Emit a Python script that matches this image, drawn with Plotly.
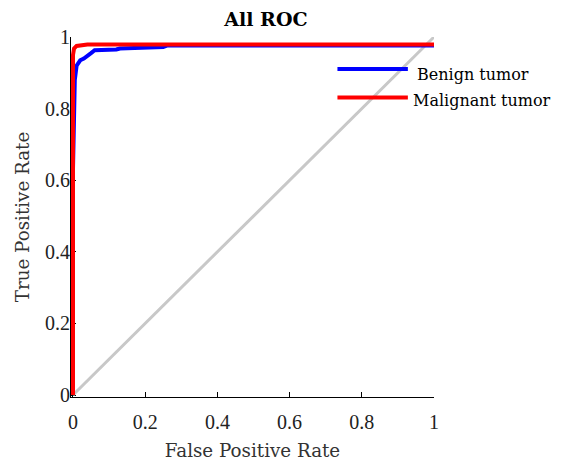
import plotly.graph_objects as go

# Data
benign_fpr = [0, 0, 0.005, 0.01, 0.02, 0.03, 0.05, 0.06, 0.12, 0.13, 0.25, 0.26, 1]
benign_tpr = [0, 0.63, 0.88, 0.92, 0.935, 0.94, 0.955, 0.963, 0.965, 0.968, 0.972, 0.976, 0.976]
malig_fpr = [0, 0, 0.003, 0.01, 0.04, 1]
malig_tpr = [0, 0.95, 0.968, 0.975, 0.979, 0.979]
diag = [0, 1]
tick_vals = [0, 0.2, 0.4, 0.6, 0.8, 1]
tick_text = ["0", "0.2", "0.4", "0.6", "0.8", "1"]
legend_names = ["Benign tumor", "Malignant tumor"]
colors = ["#0000ff", "#ff0000"]

TICKFONT = "Liberation Serif"
FONT = "DejaVu Serif"

fig = go.Figure()
fig.add_trace(go.Scatter(x=diag, y=diag, mode="lines",
                         line=dict(color="#c8c8c8", width=3), showlegend=False))
fig.add_trace(go.Scatter(x=benign_fpr, y=benign_tpr, mode="lines", name=legend_names[0],
                         line=dict(color=colors[0], width=4), showlegend=False))
fig.add_trace(go.Scatter(x=malig_fpr, y=malig_tpr, mode="lines", name=legend_names[1],
                         line=dict(color=colors[1], width=4), showlegend=False))

# manual legend (long line samples like the reference)
leg_line_y = [0.911, 0.832]
leg_text_y = [0.897, 0.824]
leg_tx = [0.947, 0.938]
for i in range(2):
    fig.add_shape(type="line", xref="paper", yref="paper",
                  x0=0.734, x1=0.928, y0=leg_line_y[i], y1=leg_line_y[i],
                  line=dict(color=colors[i], width=4))
    fig.add_annotation(xref="paper", yref="paper", x=leg_tx[i], y=leg_text_y[i],
                       text=legend_names[i], showarrow=False, xanchor="left",
                       yanchor="middle", font=dict(family=FONT, size=16, color="black"))

axis_common = dict(
    tickvals=tick_vals, ticktext=tick_text, ticks="inside", ticklen=5,
    tickcolor="black", tickwidth=1, showline=True, linecolor="black", linewidth=1,
    showgrid=False, zeroline=False, layer="below traces", automargin=False,
    tickfont=dict(family=TICKFONT, size=20, color="#222"),
)
fig.update_xaxes(range=[-0.0055, 1.0], title=dict(text="False Positive Rate",
                 font=dict(family=FONT, size=18.3, color="#333"), standoff=12),
                 ticklabelstandoff=7, **axis_common)
fig.update_yaxes(range=[-0.0055, 1.0], title=dict(text="True Positive Rate",
                 font=dict(family=FONT, size=18.3, color="#333"), standoff=10),
                 ticklabelstandoff=-4, **axis_common)

fig.update_layout(
    width=553, height=454,
    margin=dict(l=63, r=127, t=29, b=65),
    plot_bgcolor="white", paper_bgcolor="white",
    title=dict(text="<b>All ROC</b>", x=0.4665, xanchor="center", y=0.975, yanchor="middle",
               font=dict(family=FONT, size=19, color="black")),
    showlegend=False,
)

fig.write_html("out.html")
